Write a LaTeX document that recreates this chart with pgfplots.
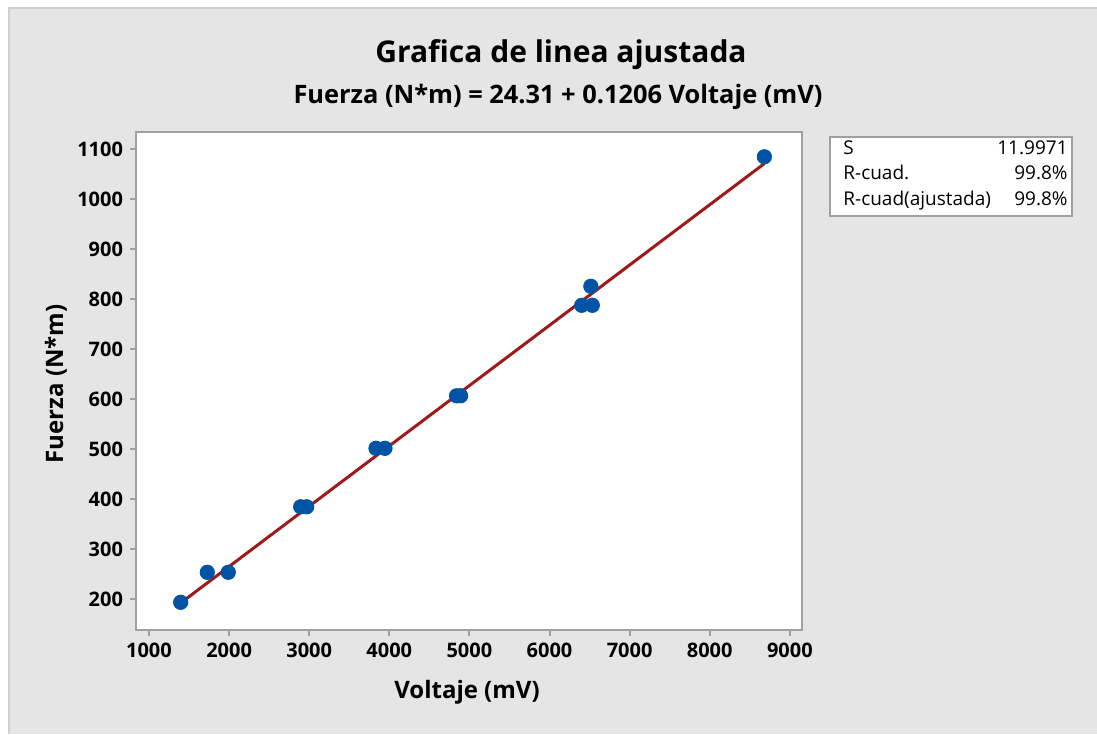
\documentclass[border=0pt]{standalone}
\usepackage{fontspec}
\setmainfont{Open Sans}
\usepackage{pgfplots}
\pgfplotsset{compat=1.18}
\definecolor{bg}{HTML}{E5E5E5}
\definecolor{bord}{HTML}{CFCFCF}
\definecolor{axgray}{HTML}{A0A0A0}
\definecolor{ptblue}{HTML}{0054A6}
\definecolor{fitred}{HTML}{9E1A1A}
\begin{document}
\begin{tikzpicture}[x=1pt,y=1pt]
\useasboundingbox (0,0) rectangle (548.5,367);
\fill[white] (0,0) rectangle (548.5,367);
\fill[bg] (4,0) rectangle (548.5,363);
\draw[bord, line width=1pt] (4.25,0) -- (4.25,362.75) -- (548.5,362.75);
\begin{axis}[
  at={(68pt,52pt)}, anchor=south west,
  scale only axis, width=333pt, height=249pt,
  xmin=838, xmax=9152, ymin=138.6, ymax=1134.6,
  xtick={1000,2000,...,9000}, ytick={200,300,...,1100},
  axis background/.style={fill=white},
  axis line style={axgray, line width=1pt},
  tick align=outside, major tick length=3pt,
  every tick/.style={axgray, line width=1pt},
  tick pos=left,
  tick label style={font=\fontsize{10}{12}\selectfont\bfseries, text=black},
  /pgf/number format/assume math mode=true,
  /pgf/number format/1000 sep={},
]
\addplot[fitred, line width=1.5pt] coordinates {(1396,192.7) (8682,1071.4)};
\addplot[only marks, mark=*, mark size=3.6pt, mark options={fill=ptblue, draw=ptblue}] coordinates {
(1396,194) (1728,254) (1990,254) (2894,385) (2969,385) (3834,502) (3946,502)
(4840,607) (4890,607) (6402,788) (6534,788) (6516,826) (8682,1085)};
\end{axis}
\node[font=\fontsize{15}{18}\selectfont\bfseries] at (280.5,339.8) {Grafica de linea ajustada};
\node[font=\fontsize{12.7}{15}\selectfont\bfseries] at (279,318.5) {Fuerza (N*m) = 24.31 + 0.1206 Voltaje (mV)};
\node[font=\fontsize{12}{14}\selectfont\bfseries] at (233.5,21) {Voltaje (mV)};
\node[font=\fontsize{12}{14}\selectfont\bfseries, rotate=90] at (28,175) {Fuerza (N*m)};
\draw[axgray, fill=white, line width=0.75pt] (415,259) rectangle (536,298.4);
\begin{scope}[every node/.style={font=\fontsize{9.5}{11}\selectfont, inner sep=0pt}]
\node[anchor=base west] at (421.5,289.75) {S};
\node[anchor=base west] at (421.5,277.25) {R-cuad.};
\node[anchor=base west] at (421.5,264.25) {R-cuad(ajustada)};
\node[anchor=base east] at (534,289.75) {11.9971};
\node[anchor=base east] at (534,277.25) {99.8\%};
\node[anchor=base east] at (534,264.25) {99.8\%};
\end{scope}
\end{tikzpicture}
\end{document}
